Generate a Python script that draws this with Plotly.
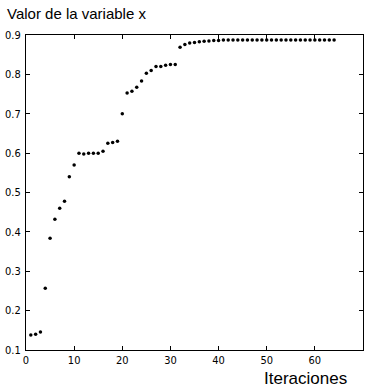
import plotly.graph_objects as go

iteraciones = list(range(1, 65))
valores = [0.138, 0.140, 0.146, 0.257, 0.384, 0.432, 0.460, 0.478, 0.540, 0.570,
           0.600, 0.598, 0.600, 0.600, 0.600, 0.605, 0.625, 0.627, 0.630, 0.700,
           0.753, 0.757, 0.767, 0.783, 0.803, 0.810, 0.820, 0.820, 0.823, 0.825,
           0.825, 0.869, 0.876, 0.880, 0.881, 0.883, 0.884, 0.885, 0.886, 0.886,
           0.887, 0.887, 0.887, 0.887, 0.887, 0.887, 0.887, 0.887, 0.887, 0.887,
           0.887, 0.887, 0.887, 0.887, 0.887, 0.887, 0.887, 0.887, 0.887, 0.887,
           0.887, 0.887, 0.887, 0.887]
x_ticks = [0, 10, 20, 30, 40, 50, 60, 70]
y_ticks = [0.1, 0.2, 0.3, 0.4, 0.5, 0.6, 0.7, 0.8, 0.9]

fig = go.Figure(go.Scatter(x=iteraciones, y=valores, mode="markers",
                           marker=dict(color="black", size=3.5)))

axis_common = dict(showgrid=False, zeroline=False, showline=True, linecolor="black",
                   linewidth=1, mirror="ticks", ticks="inside", ticklen=4,
                   tickcolor="black",
                   tickfont=dict(family="Liberation Sans Narrow, DejaVu Sans Condensed, Arial", size=11, color="black"))

fig.update_layout(
    width=369, height=387,
    margin=dict(l=25, r=5, t=35, b=37),
    paper_bgcolor="white", plot_bgcolor="white",
    showlegend=False,
    xaxis=dict(range=[0, 70], tickvals=x_ticks, **axis_common),
    yaxis=dict(range=[0.1, 0.9], tickvals=y_ticks, ticklabelstandoff=2, **axis_common),
    annotations=[
        dict(text="Valor de la variable x", xref="paper", yref="paper",
             x=-0.062, y=1.1, xanchor="left", yanchor="top", showarrow=False,
             font=dict(family="Liberation Sans, Arial", size=15, color="black")),
        dict(text="Iteraciones", xref="paper", yref="paper",
             x=0.829, y=-0.089, xanchor="center", yanchor="middle", showarrow=False,
             font=dict(family="Liberation Sans, Arial", size=17, color="black")),
    ],
)

fig.write_html("out.html")
